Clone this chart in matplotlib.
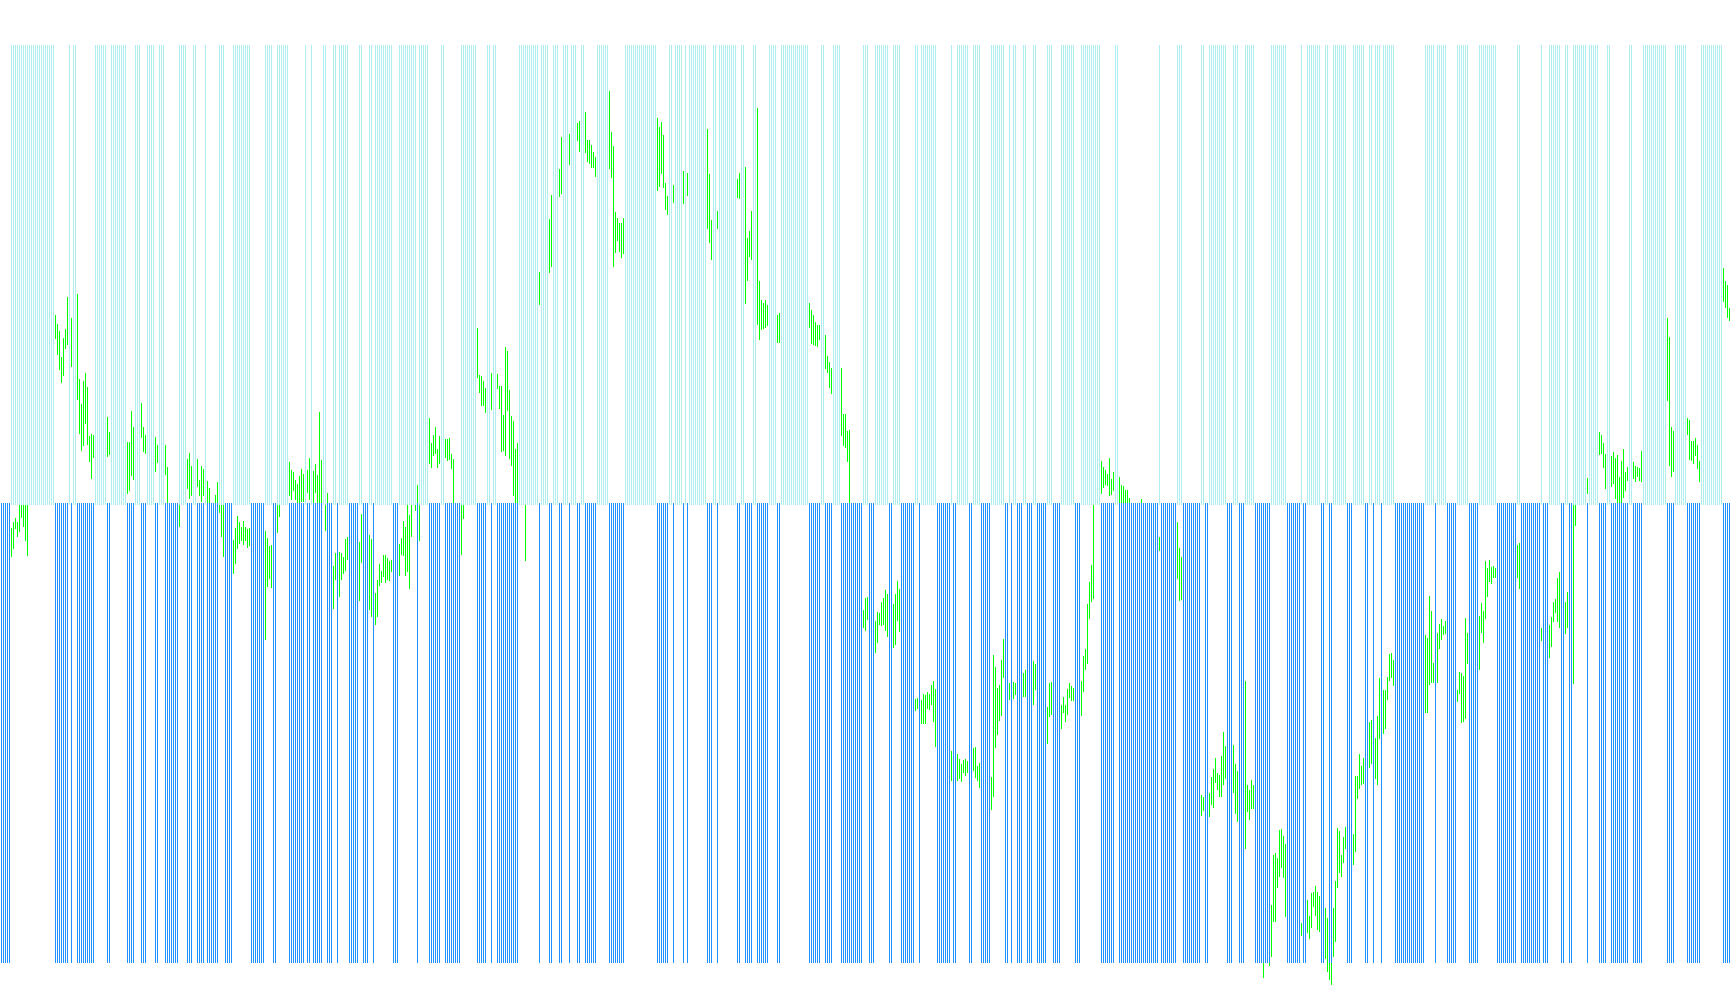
"""
plot.py - range bars over up/down state bars
"""
import numpy as np, matplotlib
matplotlib.use("Agg")
import matplotlib.pyplot as plt

# state of each bar as run lengths, alternating, first run is "down"
state_runs = [
    5,22,7,1,1,2,9,6,2,8,4,3,3,4,2,3,7,4,3,2,4,1,6,3,4,9,7,4,2,6,
    8,1,2,1,5,2,3,2,1,5,5,2,3,2,1,9,3,9,1,5,6,2,8,8,5,2,1,2,11,10,
    1,4,2,3,2,3,1,3,2,
    2,6,6,8,16,6,2,1,4,1,1,1,9,3,2,1,9,2,2,4,2,6,4,2,14,6,2,4,4,11,3,
    3,7,2,4,7,2,1,8,7,1,2,6,2,4,5,7,2,1,1,2,3,2,3,2,5,3,4,7,3,10,7,2,20,1,
    8,3,9,2,2,9,3,3,3,5,8,8,7,1,2,7,2,2,2,7,3,6,2,2,1,3,1,6,15,5,1,5,
    5,6,5,9,10,2,10,1,3,6,2,2,2,7,1,5,4,2,9,2,5,12,4,6,7,11,4,
]
level_top = 45
level_mid = 503
level_bottom = 962

# range bars that can be seen: bar number, upper and lower end
bar_idx = [
    5,6,7,8,9,10,11,12,13,
    27,28,29,30,31,32,33,35,38,39,40,41,42,43,44,45,46,
    53,54,63,64,65,66,70,71,72,77,78,82,83,89,
    93,94,95,98,99,100,101,103,104,107,108,109,110,111,
    116,117,118,119,120,121,122,123,124,132,133,134,135,138,139,144,
    145,146,147,148,149,150,151,153,154,156,157,158,159,160,162,163,
    166,167,169,170,171,172,173,179,180,184,185,187,188,189,190,191,192,193,194,195,
    199,200,201,202,203,204,205,207,208,209,
    214,215,216,217,218,219,222,223,224,225,226,230,231,
    238,239,240,241,242,245,248,249,250,251,252,253,254,255,256,257,258,262,
    269,274,275,279,280,284,288,289,
    292,293,294,295,296,297,304,305,306,307,308,309,310,311,
    328,329,330,331,332,333,336,341,343,353,354,355,358,368,369,
    372,373,374,375,378,379,380,381,382,383,388,389,
    404,405,406,407,408,409,412,413,414,415,420,421,422,423,424,
    431,432,433,437,438,439,440,441,442,443,446,447,448,449,
    457,458,460,461,462,463,464,465,466,467,475,478,479,480,481,482,483,486,487,488,489,
    495,496,497,498,499,500,501,504,506,507,511,512,516,517,
    523,524,525,530,531,532,533,534,535,536,540,541,542,543,544,545,546,
    550,551,552,553,554,555,556,559,560,561,562,563,564,570,579,
    588,589,590,600,601,604,605,606,607,608,609,610,611,612,
    616,617,618,622,623,624,625,626,631,634,635,636,637,638,639,640,641,642,
    650,653,654,655,656,657,658,659,662,663,664,665,666,667,
    668,669,670,671,672,676,677,678,679,680,681,684,685,
    687,688,689,691,692,693,694,695,696,712,713,714,715,716,718,719,720,721,722,
    728,729,730,731,732,733,739,740,741,742,743,744,745,746,747,758,759,770,
    774,775,776,777,778,779,782,783,786,787,793,
    799,800,801,802,805,806,807,808,809,810,811,812,813,816,817,818,819,820,
    833,834,835,836,843,844,845,846,847,848,849,861,862,863,864,
]
bar_top = [
    528,522,518,522,503,503,503,503,503,
    315,324,331,357,338,329,297,318,294,379,404,381,373,387,436,434,435,
    417,432,442,442,411,427,403,427,435,437,445,445,467,503,
    459,453,466,459,480,466,469,481,488,495,482,503,503,503,
    540,528,516,522,527,521,527,529,528,531,538,546,545,503,503,462,
    470,472,480,484,476,469,474,470,458,471,464,475,412,460,503,493,
    566,553,552,553,557,539,537,542,514,535,539,593,580,564,571,555,555,558,561,560,
    544,538,521,527,503,515,503,503,485,503,
    418,443,435,427,449,436,439,439,438,454,459,503,503,
    328,375,376,381,388,373,374,386,386,415,347,351,390,416,421,449,443,503,
    272,219,195,169,137,134,123,121,
    112,140,140,145,152,157,91,132,146,212,218,223,223,218,
    118,127,122,135,183,196,185,171,173,129,174,220,211,179,173,
    167,238,231,211,108,281,300,303,300,305,315,313,
    303,310,315,322,325,325,335,356,362,368,368,414,414,431,430,
    610,598,597,621,612,613,602,598,590,594,604,594,581,589,
    699,698,700,694,695,692,694,685,681,689,751,754,759,764,760,759,761,748,747,766,763,
    777,655,667,688,685,660,639,683,682,683,673,670,661,664,
    707,683,682,705,697,705,689,683,686,688,681,656,649,604,582,565,503,
    461,467,470,474,458,479,472,477,485,486,490,490,498,499,537,
    522,548,557,795,797,793,777,769,758,773,775,756,732,746,
    745,764,771,681,785,790,780,785,962,962,905,855,853,858,830,829,836,844,
    923,900,916,893,892,886,892,896,908,918,962,962,908,881,
    828,831,855,837,827,834,776,776,754,766,758,722,720,
    738,716,678,690,690,677,654,653,660,635,638,596,611,663,633,624,619,626,621,
    690,672,673,676,618,633,616,603,611,561,568,560,567,566,568,545,543,628,
    625,617,602,599,578,572,602,592,503,503,478,
    432,435,443,454,456,452,458,455,477,461,449,472,467,462,466,467,468,451,
    318,337,427,431,418,420,441,441,438,445,461,268,281,285,308,
]
bar_low = [
    556,548,528,536,531,517,526,540,555,
    338,354,369,382,375,348,344,366,399,433,450,445,423,444,461,478,457,
    456,454,493,490,475,479,437,451,453,471,462,474,503,526,
    488,498,495,486,495,501,495,502,503,503,503,512,536,556,
    573,563,548,543,540,544,540,547,545,639,586,578,587,532,516,495,
    499,490,499,503,503,501,501,492,499,503,492,503,503,503,530,503,
    608,579,596,579,573,570,559,600,562,609,616,624,616,585,582,576,582,579,580,571,
    575,554,555,575,571,588,536,510,503,540,
    463,467,455,453,467,463,457,460,459,468,503,554,518,
    377,392,405,405,412,409,388,408,451,450,455,410,458,465,495,503,503,560,
    304,272,266,196,193,164,140,151,
    152,161,163,167,167,176,168,177,266,252,240,251,257,253,
    190,186,173,187,209,214,202,203,195,228,242,259,228,197,198,
    303,280,256,259,324,339,329,328,327,325,342,342,
    327,343,344,345,346,339,368,372,387,393,435,445,447,461,503,
    627,630,619,652,642,624,625,624,630,636,647,644,620,631,
    710,708,723,723,723,708,709,704,721,746,780,780,778,781,772,775,772,770,777,780,787,
    809,796,747,734,720,715,677,699,698,694,696,696,704,689,
    743,716,714,728,712,721,714,697,700,700,715,691,669,663,618,601,598,
    493,487,484,485,495,494,490,502,503,503,503,503,503,503,550,
    578,600,599,815,810,816,804,807,782,789,796,796,784,778,
    792,813,821,848,811,819,808,808,977,965,956,921,921,887,876,867,877,916,
    935,932,938,927,906,915,929,931,958,971,979,984,956,941,
    887,872,876,862,848,864,851,798,788,784,783,767,763,
    778,784,738,733,728,699,680,677,685,712,712,684,682,682,682,648,639,634,633,
    701,693,722,721,718,663,669,632,642,618,596,581,583,577,577,577,588,640,
    657,646,621,612,621,627,633,627,683,525,493,
    454,453,467,488,486,483,498,503,503,503,497,490,480,478,481,476,480,481,
    400,465,476,471,434,459,460,463,455,468,481,301,307,317,320,
]

# alternate down/up through the runs
is_down = np.repeat(np.arange(len(state_runs)) % 2 == 0, state_runs)
x = np.arange(len(is_down))

fig = plt.figure(figsize=(17.3, 10.05), dpi=100)
ax = fig.add_axes([0, 0, 1, 1])

lw = 0.72  # one pixel
ax.vlines(bar_idx, bar_top, bar_low, color="lime", lw=lw, antialiased=False, zorder=1)
ax.vlines(x[~is_down], level_top, level_mid + 1, color="paleturquoise", lw=lw, antialiased=False, zorder=2)
ax.vlines(x[is_down], level_mid, level_bottom, color="dodgerblue", lw=lw, antialiased=False, zorder=2)

ax.set_xlim(-0.5, 864.5)
ax.set_ylim(1005, 0)
ax.axis("off")

fig.savefig("out.png", dpi=100, facecolor="white")
print(len(is_down), len(bar_idx), len(bar_top), len(bar_low))
